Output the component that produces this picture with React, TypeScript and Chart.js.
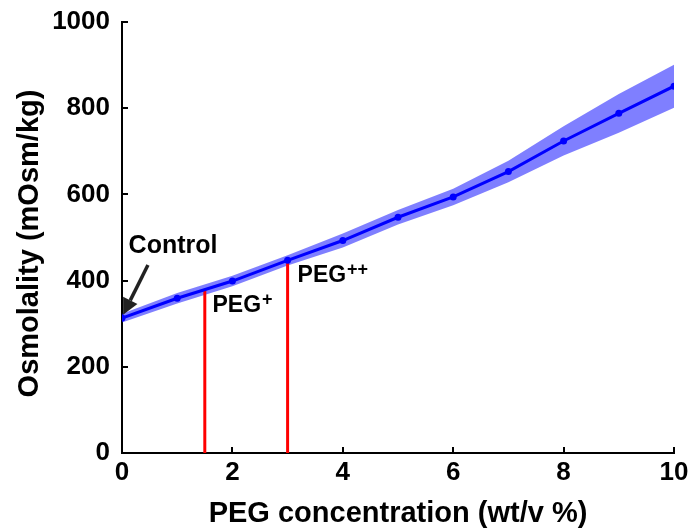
import React, { useEffect, useRef } from "react";
import { Chart, registerables } from "chart.js";

Chart.register(...registerables);

const concentrations = [0, 1, 2, 3, 4, 5, 6, 7, 8, 9, 10];
const osmolality = [313, 359, 399, 447, 493, 547, 594, 653, 724, 788, 851];
const bandUpper = [323, 371, 411, 459, 509, 564, 613, 678, 758, 833, 901];
const bandLower = [303, 347, 387, 435, 477, 530, 575, 628, 690, 743, 801];
const markerX = [1.5, 3];
const markerTop = [380, 447];
const xTicks = [0, 2, 4, 6, 8, 10];
const yTicks = [0, 200, 400, 600, 800, 1000];
const yTitle = "Osmolality (mOsm/kg)";
const xTitle = "PEG concentration (wt/v %)";

const FONT = "'Liberation Sans', Arial, sans-serif";

const annotationPlugin = {
  id: "annot",
  afterDraw(chart: any) {
    const ctx = chart.ctx;
    const xs = chart.scales.x;
    const ys = chart.scales.y;
    ctx.save();
    // inward ticks
    ctx.strokeStyle = "#000";
    ctx.lineWidth = 2;
    const area = chart.chartArea;
    yTicks.forEach((v) => {
      const py = Math.round(ys.getPixelForValue(v));
      ctx.beginPath();
      ctx.moveTo(area.left, py);
      ctx.lineTo(area.left + 6, py);
      ctx.stroke();
    });
    xTicks.forEach((v) => {
      const px = Math.round(xs.getPixelForValue(v));
      ctx.beginPath();
      ctx.moveTo(px, area.bottom);
      ctx.lineTo(px, area.bottom - 6);
      ctx.stroke();
    });

    // y title
    ctx.save();
    ctx.fillStyle = "#000";
    ctx.font = `bold 29px ${FONT}`;
    ctx.textAlign = "center";
    ctx.textBaseline = "middle";
    ctx.translate(30, (area.top + area.bottom) / 2 + 6);
    ctx.rotate(-Math.PI / 2);
    ctx.fillText(yTitle, 0, 0);
    ctx.restore();

    ctx.fillStyle = "#000";
    ctx.textBaseline = "alphabetic";
    ctx.textAlign = "left";
    // Control label
    ctx.font = `bold 25px ${FONT}`;
    ctx.fillText("Control", xs.getPixelForValue(0.12), ys.getPixelForValue(464));
    // arrow
    const sx = xs.getPixelForValue(0.47);
    const sy = ys.getPixelForValue(436);
    const tx = xs.getPixelForValue(0.02);
    const ty = ys.getPixelForValue(321);
    const ang = Math.atan2(ty - sy, tx - sx);
    const headLen = 16;
    const headW = 8;
    const bx = tx - headLen * Math.cos(ang);
    const by = ty - headLen * Math.sin(ang);
    ctx.strokeStyle = "#222";
    ctx.lineWidth = 3.5;
    ctx.beginPath();
    ctx.moveTo(sx, sy);
    ctx.lineTo(bx, by);
    ctx.stroke();
    ctx.fillStyle = "#222";
    ctx.beginPath();
    ctx.moveTo(tx, ty);
    ctx.lineTo(bx + headW * Math.sin(ang), by - headW * Math.cos(ang));
    ctx.lineTo(bx - headW * Math.sin(ang), by + headW * Math.cos(ang));
    ctx.closePath();
    ctx.fill();

    // PEG labels
    ctx.fillStyle = "#000";
    const drawPeg = (xv: number, yv: number, sup: string) => {
      const px = xs.getPixelForValue(xv);
      const py = ys.getPixelForValue(yv);
      ctx.font = `bold 23px ${FONT}`;
      ctx.fillText("PEG", px, py);
      const w = ctx.measureText("PEG").width;
      ctx.font = `bold 18px ${FONT}`;
      ctx.fillText(sup, px + w + 1, py - 7);
    };
    drawPeg(1.64, 327, "+");
    drawPeg(3.18, 397, "++");
    ctx.restore();
  },
};

export default function App() {
  const ref = useRef<HTMLCanvasElement>(null);
  useEffect(() => {
    if (!ref.current) return;
    const pts = (ys: number[]) => concentrations.map((x, i) => ({ x, y: ys[i] }));
    const chart = new Chart(ref.current, {
      type: "line",
      data: {
        datasets: [
          {
            data: pts(bandLower),
            borderWidth: 0,
            pointRadius: 0,
            fill: false,
            borderColor: "rgba(0,0,0,0)",
            order: 3,
          },
          {
            data: pts(bandUpper),
            borderWidth: 0,
            pointRadius: 0,
            fill: "-1",
            backgroundColor: "rgba(0,0,255,0.5)",
            borderColor: "rgba(0,0,0,0)",
            order: 3,
          },
          ...markerX.map((mx, i) => ({
            data: [
              { x: mx, y: 0 },
              { x: mx, y: markerTop[i] },
            ],
            borderColor: "#ff0000",
            borderWidth: 3,
            pointRadius: 0,
            fill: false,
            order: 2,
          })),
          {
            data: pts(osmolality),
            borderColor: "#0000ff",
            backgroundColor: "#0000ff",
            borderWidth: 3,
            pointRadius: 3.5,
            pointBackgroundColor: "#0000ff",
            pointBorderWidth: 0,
            fill: false,
            order: 1,
          },
        ],
      },
      options: {
        responsive: false,
        animation: false,
        layout: { padding: { top: 22, right: 16, left: 0, bottom: 0 } },
        plugins: { legend: { display: false }, tooltip: { enabled: false } },
        scales: {
          x: {
            type: "linear",
            min: 0,
            max: 10,
            afterFit: (s: any) => {
              s.height = 78;
              s.paddingLeft = 0;
              s.paddingRight = 0;
            },
            afterBuildTicks: (s: any) => {
              s.ticks = xTicks.map((v) => ({ value: v }));
            },
            grid: { display: false, drawTicks: false },
            border: { display: true, color: "#000", width: 2 },
            ticks: {
              padding: 4,
              color: "#000",
              callback: (v: any) => String(v),
              font: { family: FONT, size: 26, weight: "bold" },
            },
            title: {
              display: true,
              text: xTitle,
              color: "#000",
              font: { family: FONT, size: 29, weight: "bold", lineHeight: 1.2 },
              padding: { top: 0, bottom: 0 },
            },
          },
          y: {
            min: 0,
            max: 1000,
            afterFit: (s: any) => {
              s.width = 122;
              s.paddingTop = 0;
              s.paddingBottom = 0;
            },
            afterBuildTicks: (s: any) => {
              s.ticks = yTicks.map((v) => ({ value: v }));
            },
            grid: { display: false, drawTicks: false },
            border: { display: true, color: "#000", width: 2 },
            ticks: {
              padding: 12,
              color: "#000",
              callback: (v: any) => String(v),
              font: { family: FONT, size: 26, weight: "bold" },
            },
          },
        },
      },
      plugins: [annotationPlugin],
    } as any);
    return () => chart.destroy();
  }, []);
  return (
    <div style={{ position: "fixed", left: 0, top: 0, width: 690, height: 531, background: "#fff" }}>
      <canvas ref={ref} width={690} height={531} style={{ width: 690, height: 531 }} />
    </div>
  );
}
